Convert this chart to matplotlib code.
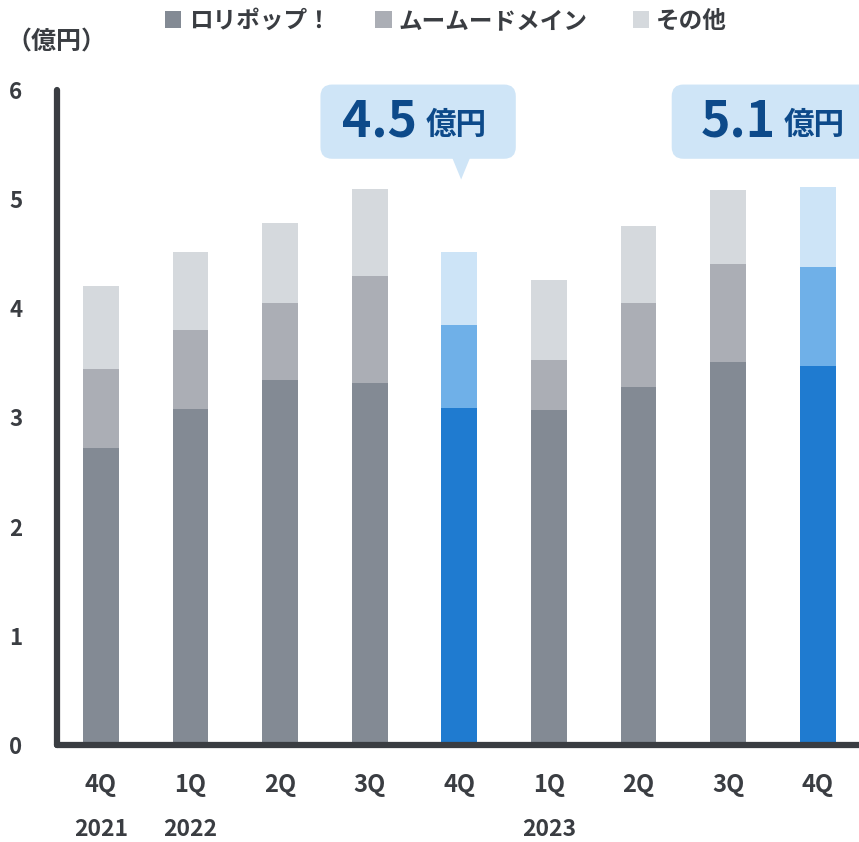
import matplotlib.pyplot as plt
from matplotlib.patches import FancyBboxPatch, Polygon, Patch

plt.rcParams['font.family'] = ['Noto Sans CJK JP', 'DejaVu Sans']

# data (億円)
quarters = ["4Q", "1Q", "2Q", "3Q", "4Q", "1Q", "2Q", "3Q", "4Q"]
years = {0: "2021", 1: "2022", 5: "2023"}
lolipop = [2.72, 3.08, 3.34, 3.32, 3.09, 3.07, 3.28, 3.51, 3.47]
muumuu = [0.72, 0.72, 0.71, 0.98, 0.76, 0.46, 0.77, 0.90, 0.91]
other = [0.76, 0.72, 0.73, 0.79, 0.67, 0.73, 0.70, 0.67, 0.73]
series_names = ["ロリポップ！", "ムームードメイン", "その他"]
highlight = [4, 8]
callouts = {4: "4.5", 8: "5.1"}

gray_cols = ["#838a94", "#abaeb5", "#d5d9dd"]
blue_cols = ["#1f7bd0", "#6fb0e8", "#cde4f7"]
dark = "#3a3d42"
bubble = "#cfe5f7"
bubble_txt = "#0d4a8a"

fig = plt.figure(figsize=(8.59, 8.42), dpi=100)
ax = fig.add_axes([57/859, 97/842, 802/859, 655/842])

x = list(range(len(quarters)))
w = 0.40
for i in x:
    cols = blue_cols if i in highlight else gray_cols
    bottom = 0
    for val, c in zip([lolipop[i], muumuu[i], other[i]], cols):
        ax.bar(i, val, w, bottom=bottom, color=c, linewidth=0, zorder=2)
        bottom += val

ax.set_xlim(-0.49, 8.46)
ax.set_ylim(0, 6)
for s in ["top", "right"]:
    ax.spines[s].set_visible(False)
for s in ["left", "bottom"]:
    ax.spines[s].set_color(dark)
    ax.spines[s].set_linewidth(4.5)
    ax.spines[s].set_capstyle("round")
ax.set_yticks(range(7))
ax.set_yticklabels([str(v) for v in range(7)], fontsize=16, fontweight="bold", color=dark)
ax.tick_params(axis="y", length=0, pad=25)
ax.set_xticks(x)
ax.set_xticklabels(quarters, fontsize=17, fontweight="bold", color=dark)
ax.tick_params(axis="x", length=0, pad=20)
for i, yr in years.items():
    ax.text(i, -0.77, yr, ha="center", va="center", fontsize=16.5, fontweight="bold",
            color=dark, clip_on=False)

# unit label
fig.text(6/859, 1 - 42/842, "（億円）", fontsize=18, fontweight="bold", color=dark,
         ha="left", va="center")

# callout bubbles
aspect = 89.6 / 109.17
for i, val in callouts.items():
    tot = lolipop[i] + muumuu[i] + other[i]
    x0, x1 = i - 1.55, i + 0.63
    if i == 8:
        x0 = i - 1.63
    y0, y1 = 5.37, 6.05
    box = FancyBboxPatch((x0, y0), x1 - x0, y1 - y0,
                         boxstyle="round,pad=0,rounding_size=0.13",
                         mutation_aspect=aspect, facecolor=bubble, edgecolor="none",
                         transform=ax.transData, clip_on=False, zorder=3)
    ax.add_patch(box)
    tail = Polygon([(i - 0.08, y0 + 0.01), (i + 0.12, y0 + 0.01), (i + 0.02, tot + 0.66)],
                   closed=True, facecolor=bubble, edgecolor="none", clip_on=False, zorder=3)
    ax.add_patch(tail)
    ax.text(i - 0.47, (y0 + y1) / 2, val, ha="right", va="center", fontsize=36,
            fontweight="bold", color=bubble_txt, zorder=4, clip_on=False)
    ax.text(i - 0.38, (y0 + y1) / 2 - 0.03, "億円", ha="left", va="center", fontsize=22,
            fontweight="bold", color=bubble_txt, zorder=4, clip_on=False)

handles = [Patch(facecolor=c, edgecolor="none") for c in gray_cols]
fig.legend(handles, series_names, loc="center", bbox_to_anchor=(446/859, 1 - 21/842),
           ncol=3, frameon=False, handlelength=0.7, handleheight=0.7, handletextpad=0.3,
           columnspacing=1.9, prop={"size": 17, "weight": "bold"}, labelcolor=dark)

fig.savefig("out.png", dpi=100)
